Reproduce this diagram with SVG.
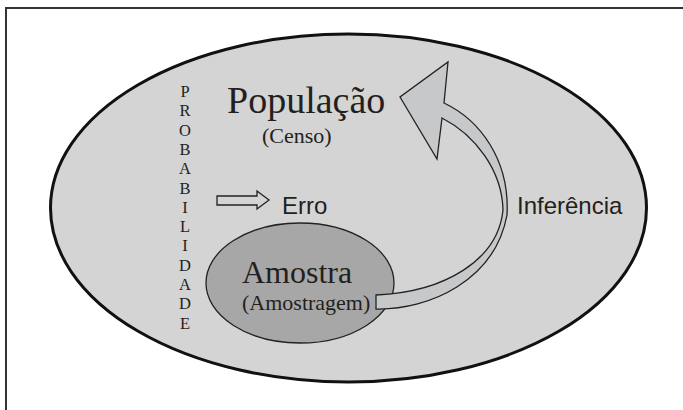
<svg xmlns="http://www.w3.org/2000/svg" width="683" height="410" viewBox="0 0 683 410">
<style>
.serif{font-family:"Liberation Serif","Times New Roman",serif;fill:#231f20}
.sans{font-family:"Liberation Sans",Arial,sans-serif;fill:#231f20}
</style>
<rect x="0" y="0" width="683" height="410" fill="#ffffff"/>
<rect x="6" y="8" width="720" height="430" fill="none" stroke="#333" stroke-width="2"/>
<g id="populacao">
<ellipse cx="348.5" cy="208" rx="298" ry="174" fill="#d4d4d4" stroke="#111" stroke-width="3"/>
<text class="serif" x="227" y="113" font-size="38">População</text>
<text class="serif" x="262" y="143" font-size="22">(Censo)</text>
</g>
<g id="probabilidade">
<text class="serif" font-size="16.5" text-anchor="middle" x="185" y="97">P<tspan x="185" dy="19.3">R</tspan><tspan x="185" dy="19.3">O</tspan><tspan x="185" dy="19.3">B</tspan><tspan x="185" dy="19.3">A</tspan><tspan x="185" dy="19.3">B</tspan><tspan x="185" dy="19.3">I</tspan><tspan x="185" dy="19.3">L</tspan><tspan x="185" dy="19.3">I</tspan><tspan x="185" dy="19.3">D</tspan><tspan x="185" dy="19.3">A</tspan><tspan x="185" dy="19.3">D</tspan><tspan x="185" dy="19.3">E</tspan></text>
</g>
<g id="amostra">
<ellipse cx="300" cy="283" rx="94" ry="60" fill="#a7a7a7" stroke="#222" stroke-width="1.3"/>
<text class="serif" x="242" y="283" font-size="32">Amostra</text>
<text class="serif" x="242" y="310" font-size="22">(Amostragem)</text>
</g>
<g id="erro">
<text class="sans" x="282" y="214" font-size="24">Erro</text>
</g>
<g id="inferencia">
<text class="sans" x="517" y="214" font-size="24">Inferência</text>
</g>
<g id="connectors">
<polygon points="217,196 257,196 257,191 269,200 257,209 257,205 217,205" fill="#d4d4d4" stroke="#222" stroke-width="1.3"/>
<path d="M376,309 C430,310 495,280 507,215 C510,160 480,120 444,103 L448,62 L400,97 L437,159 L442,118 C475,135 502,170 503,210 C498,260 445,292 376,295 Z" fill="#c6c8ca" stroke="#222" stroke-width="1.3" stroke-linejoin="miter"/>
</g>
</svg>
